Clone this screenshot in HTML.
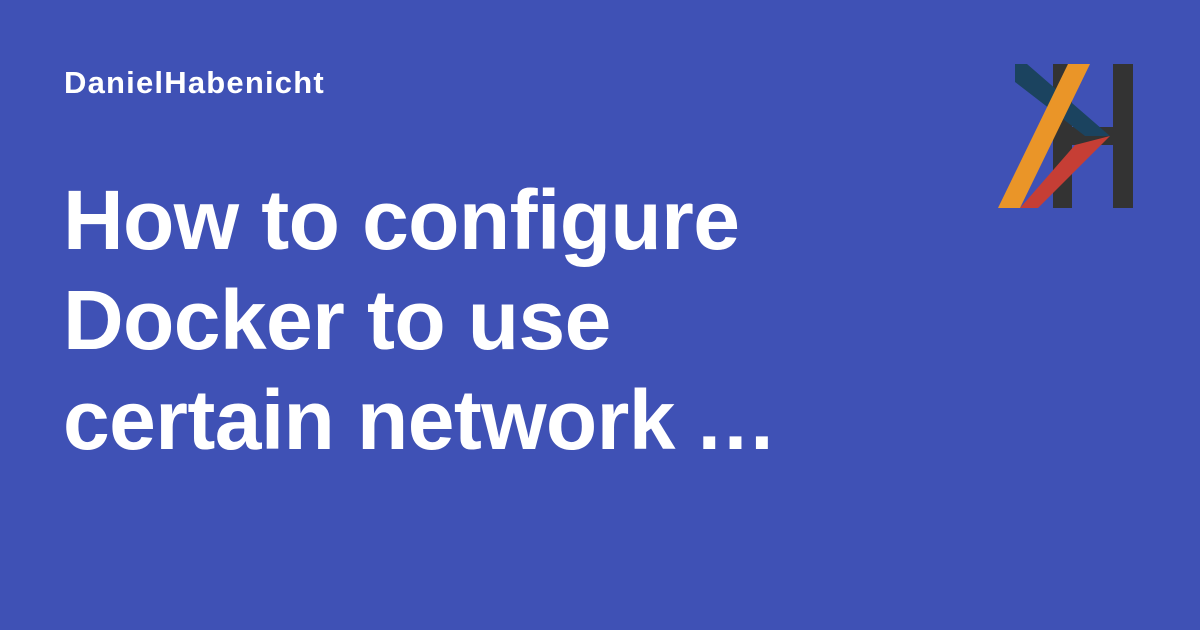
<!DOCTYPE html>
<html><head><meta charset="utf-8"><style>
html,body{margin:0;padding:0}
body{width:1200px;height:630px;background:#3F51B5;position:relative;overflow:hidden;font-family:"Liberation Sans",sans-serif;color:#fff}
.a{position:absolute;left:64px;top:65px;font-size:31px;font-weight:bold;letter-spacing:1.2px}
.t{position:absolute;left:63px;top:170px;font-size:84px;font-weight:bold;line-height:100px;letter-spacing:-0.6px}
.d{letter-spacing:3px}
svg{position:absolute;left:0;top:0}
</style></head><body>
<div class="a">DanielHabenicht</div>
<div class="t">How to configure<br>Docker to use<br>certain network <span class="d">...</span></div>
<svg width="1200" height="630">
<rect x="1053" y="64" width="19" height="144" fill="#333"/>
<rect x="1113" y="64" width="20" height="144" fill="#333"/>
<rect x="1072" y="127" width="41" height="18" fill="#333"/>
<polygon points="1015,64 1027,64 1110,136 1085,136 1015,82" fill="#1B435F"/>
<polygon points="1075,145 1110,136 1038,208 1020,208" fill="#C63E35"/>
<polygon points="1068,64 1090,64 1020,208 998,208" fill="#EA9528"/>
</svg>
</body></html>
